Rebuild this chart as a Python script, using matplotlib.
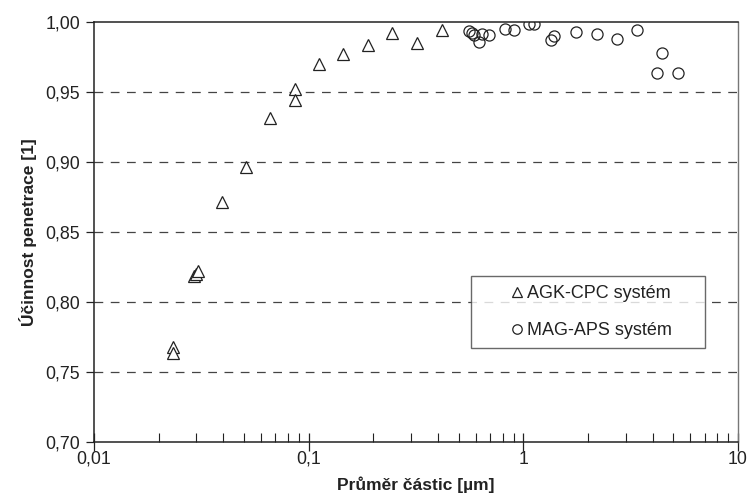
import matplotlib
matplotlib.use("Agg")
import matplotlib.pyplot as plt
from matplotlib.ticker import FixedLocator, FixedFormatter, LogLocator, NullFormatter

plt.rcParams['font.family'] = ['Liberation Sans', 'DejaVu Sans']

# AGK-CPC system (triangles)
agk_x = [0.0233, 0.0234, 0.0292, 0.0299, 0.0305, 0.0394, 0.0509, 0.066, 0.0861, 0.0861,
         0.1117, 0.145, 0.188, 0.244, 0.318, 0.418]
agk_y = [0.7675, 0.7635, 0.818, 0.820, 0.822, 0.871, 0.896, 0.931, 0.952, 0.944,
         0.970, 0.977, 0.9835, 0.992, 0.985, 0.994]

# MAG-APS system (circles)
mag_x = [0.558, 0.575, 0.589, 0.640, 0.624, 0.694, 0.821, 0.904, 1.065, 1.12,
         1.34, 1.388, 1.758, 2.203, 2.73, 3.38, 4.44, 4.21, 5.25]
mag_y = [0.9931, 0.9919, 0.9907, 0.9914, 0.9854, 0.9907, 0.9951, 0.9943, 0.9987, 0.998,
         0.9866, 0.9897, 0.9926, 0.9912, 0.9873, 0.9943, 0.9777, 0.9632, 0.9632]

y_ticks = [0.70, 0.75, 0.80, 0.85, 0.90, 0.95, 1.00]
y_labels = ['0,70', '0,75', '0,80', '0,85', '0,90', '0,95', '1,00']
x_ticks = [0.01, 0.1, 1, 10]
x_labels = ['0,01', '0,1', '1', '10']

W, H = 749, 493
L, R, T, B = 94, 738, 21.7, 441.6
fig = plt.figure(figsize=(W/100, H/100), dpi=100)
ax = fig.add_axes([L/W, 1-B/H, (R-L)/W, (B-T)/H])

for yv in y_ticks[1:-1]:
    ax.axhline(yv, color='#444444', lw=0.9, dashes=(7, 6), zorder=1)

ax.plot(agk_x, agk_y, linestyle='none', marker='^', ms=8, mfc='white', mec='#222222',
        mew=0.9, label='AGK-CPC systém', zorder=3)
ax.plot(mag_x, mag_y, linestyle='none', marker='o', ms=8, mfc='none', mec='#222222',
        mew=0.9, label='MAG-APS systém', zorder=3)

ax.set_xscale('log')
ax.set_xlim(0.01, 10)
ax.set_ylim(0.70, 1.00)

ax.xaxis.set_major_locator(FixedLocator(x_ticks))
ax.xaxis.set_major_formatter(FixedFormatter(x_labels))
ax.xaxis.set_minor_locator(LogLocator(base=10, subs=range(2, 10)))
ax.xaxis.set_minor_formatter(NullFormatter())
ax.yaxis.set_major_locator(FixedLocator(y_ticks))
ax.yaxis.set_major_formatter(FixedFormatter(y_labels))

ax.tick_params(axis='x', which='major', direction='inout', length=13, width=0.9,
               colors='#222222', labelsize=12.8, pad=0)
ax.tick_params(axis='x', which='minor', direction='in', length=6.5, width=0.8, colors='#222222')
ax.tick_params(axis='y', which='major', direction='out', length=6, width=0.9,
               colors='#222222', labelsize=12.8, pad=4)

for s in ['left', 'bottom', 'top']:
    ax.spines[s].set_color('#222222')
    ax.spines[s].set_linewidth(1.1)
ax.spines['right'].set_color('#777777')
ax.spines['right'].set_linewidth(1.0)

ax.set_xlabel('Průměr částic [µm]', fontsize=12.5, fontweight='bold', color='#222222',
              labelpad=6)
ax.set_ylabel('Účinnost penetrace [1]', fontsize=12.5, fontweight='bold', color='#222222',
              labelpad=6)

fs = 13
fpx = fs * 100 / 72
leg_left, leg_right, leg_top = 471, 705, 276
marker_c, text_start = 517, 527
bp = 0.5
hl = 2 * (marker_c - (leg_left + bp * fpx)) / fpx
htp = (text_start - (leg_left + bp * fpx + hl * fpx)) / fpx
leg = ax.legend(loc='upper left',
                bbox_to_anchor=((leg_left - L)/(R - L), (B - leg_top)/(B - T) - 0.2,
                                (leg_right - leg_left)/(R - L), 0.2),
                mode='expand', frameon=True, fancybox=False, fontsize=fs,
                handlelength=hl, handletextpad=htp, borderpad=bp, labelspacing=1.1,
                markerscale=0.85, borderaxespad=0)
leg.get_frame().set_edgecolor('#444444')
leg.get_frame().set_linewidth(1.0)
for t in leg.get_texts():
    t.set_color('#222222')

fig.savefig('out.png', dpi=100)
